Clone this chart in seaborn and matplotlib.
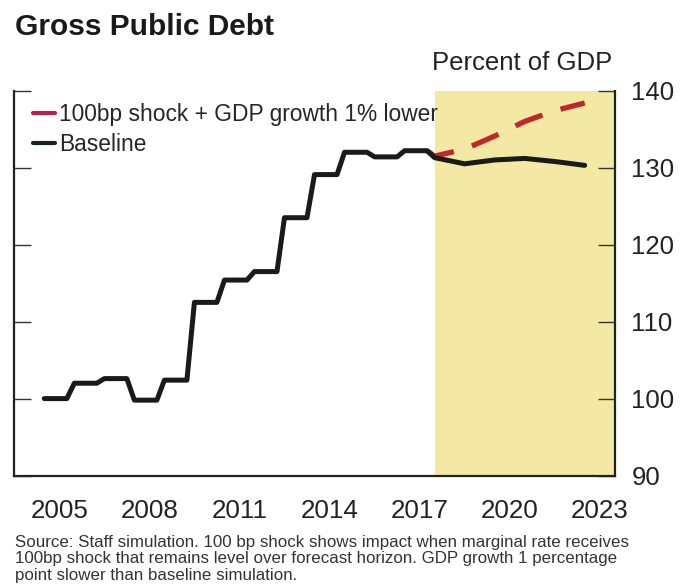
import numpy as np
import pandas as pd
import matplotlib.pyplot as plt
import seaborn as sns

# Data (percent of GDP)
hist_years = [2005, 2006, 2007, 2008, 2009, 2010, 2011, 2012, 2013, 2014, 2015, 2016, 2017]
hist_debt = [100.0, 102.0, 102.6, 99.8, 102.4, 112.5, 115.4, 116.5, 123.5, 129.1, 132.0, 131.4, 132.2]
quarters = [0.0, 0.25, 0.5, 0.75]

proj_years = [2018, 2019, 2020, 2021, 2022, 2023]
proj_baseline = [131.3, 130.5, 131.0, 131.2, 130.8, 130.3]
proj_shock = [131.5, 132.4, 134.1, 136.0, 137.4, 138.4]

shade_start, shade_end = 2018, 2024
year_labels = ['2005', '2008', '2011', '2014', '2017', '2020', '2023']

# Historical values are annual, shown at quarterly frequency
hist_x = [y + q for y in hist_years for q in quarters]
hist_y = list(np.repeat(hist_debt, len(quarters)))

base = pd.DataFrame({'x': hist_x + proj_years, 'debt': hist_y + proj_baseline})
shock = pd.DataFrame({'x': [hist_x[-1]] + proj_years, 'debt': [hist_y[-1]] + proj_shock})

sns.set_theme(style='white')
plt.rcParams['font.family'] = ['Liberation Sans', 'DejaVu Sans']

RED = '#C0272D'
BLACK = '#1a1a1a'

fig = plt.figure(figsize=(6.8, 5.85), dpi=100)
ax = fig.add_axes([0.021, 0.187, 0.883, 0.658])

ax.axvspan(shade_start, shade_end, color='#F3E8A4', lw=0, zorder=0)

sns.lineplot(data=shock, x='x', y='debt', ax=ax, color=RED, lw=3.8,
             dashes=False, zorder=2)
ax.lines[-1].set_dashes((5.5, 3.6))
sns.lineplot(data=base, x='x', y='debt', ax=ax, color=BLACK, lw=3.6, zorder=3)

ax.set_xlim(2004, 2024)
ax.set_ylim(90, 140)
ax.set_xlabel('')
ax.set_ylabel('')

# axes, ticks
for s in ['left', 'bottom', 'right']:
    ax.spines[s].set_visible(True)
    ax.spines[s].set_color('#222')
    ax.spines[s].set_linewidth(1.6)
ax.spines['top'].set_visible(False)

ax.set_xticks(np.arange(2005, 2024), labels=[])
ax.set_xticks([int(l) + 0.5 for l in year_labels], labels=year_labels, minor=True)
ax.tick_params(axis='x', which='major', direction='in', length=12, width=1, color='#333')
ax.tick_params(axis='x', which='minor', length=0, pad=17, labelsize=18.7, labelcolor='#222')

ax.set_yticks([90, 100, 110, 120, 130, 140])
ax.yaxis.tick_right()
ax.tick_params(axis='y', which='major', direction='in', length=12, width=1, color='#333',
               left=True, right=True, labelleft=False, labelright=True,
               pad=12, labelsize=18.5, labelcolor='#222')

leg_handles = [plt.Line2D([], [], color='#B5234A', lw=3),
               plt.Line2D([], [], color='#14261c', lw=3)]
ax.legend(leg_handles, ['100bp shock + GDP growth 1% lower', 'Baseline'],
          loc='upper left', bbox_to_anchor=(0.0, 1.016), frameon=False,
          fontsize=16.4, handlelength=1.0, handletextpad=0.15,
          labelspacing=0.3, borderaxespad=0.4)

fig.text(0.022, 0.953, 'Gross Public Debt', fontsize=21.5, fontweight='bold',
         color='#1a1a1a', va='center', ha='left')
fig.text(0.9, 0.892, 'Percent of GDP', fontsize=18.5, color='#222', va='center', ha='right')
fig.text(0.022, 0.086,
         'Source: Staff simulation. 100 bp shock shows impact when marginal rate receives\n'
         '100bp shock that remains level over forecast horizon. GDP growth 1 percentage\n'
         'point slower than baseline simulation.',
         fontsize=12.2, color='#333', va='top', ha='left', linespacing=1.12)

plt.savefig('out.png', dpi=100)
plt.close()
